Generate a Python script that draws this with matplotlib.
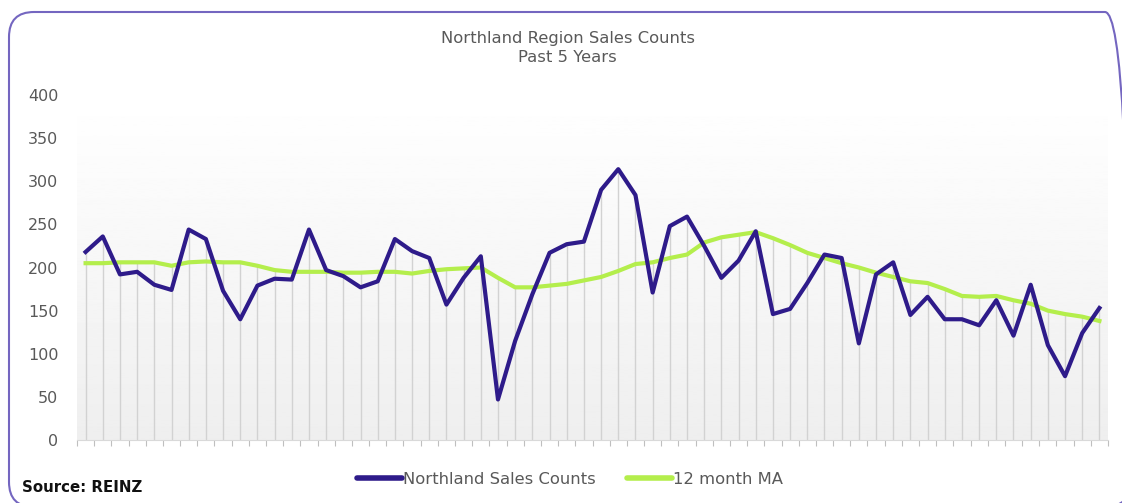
import numpy as np
import matplotlib.pyplot as plt
from matplotlib.patches import FancyBboxPatch
from matplotlib.lines import Line2D

# monthly sales counts, past 5 years (60 months)
sales = [218, 236, 192, 195, 180, 174, 244, 233, 173, 140,
         179, 187, 186, 244, 197, 190, 177, 184, 233, 219,
         211, 157, 188, 213, 47, 115, 169, 217, 227, 230,
         290, 314, 284, 171, 248, 259, 225, 188, 208, 242,
         146, 152, 182, 215, 211, 112, 192, 206, 145, 166,
         140, 140, 133, 162, 121, 180, 110, 74, 124, 153]

# 12 month moving average
ma12 = [205, 205, 206, 206, 206, 202, 206, 207, 206, 206,
        202, 197, 195, 195, 195, 194, 194, 195, 195, 193,
        196, 198, 199, 200, 188, 177, 177, 179, 181, 185,
        189, 196, 204, 206, 211, 215, 229, 235, 238, 241,
        234, 226, 217, 211, 205, 200, 194, 189, 184, 182,
        175, 167, 166, 167, 162, 158, 150, 146, 143, 138]

title = 'Northland Region Sales Counts\nPast 5 Years'
yticks = [0, 50, 100, 150, 200, 250, 300, 350, 400]

purple = '#2e1b8a'
green = '#b4ee4c'
grey_txt = '#595959'

W, H = 1122, 503
fig = plt.figure(figsize=(W / 100, H / 100), dpi=100)

# rounded card border, drawn in pixel units on a full-figure overlay
bg = fig.add_axes([0, 0, 1, 1])
bg.set_xlim(0, W)
bg.set_ylim(0, H)
bg.axis('off')
bg.add_patch(FancyBboxPatch((9, -4), 1121, 495, boxstyle='round,pad=0,rounding_size=25',
                            fill=False, edgecolor='#7466c0', lw=1.5))

ax = fig.add_axes([77 / W, 1 - 440 / H, (1108 - 77) / W, (440 - 95) / H])

x = np.arange(len(sales))

# gradient background of plot area
grad = np.linspace(1.0, 0.935, 256).reshape(-1, 1)
ax.imshow(grad, extent=[-0.5, len(sales) - 0.5, 0, 400], aspect='auto',
          cmap='gray', vmin=0, vmax=1, zorder=0, origin='upper')

# drop lines
ax.vlines(x, 0, np.maximum(sales, ma12), color='#d2d2d2', lw=1, zorder=1)

ax.plot(x, sales, color=purple, lw=3, zorder=3, solid_joinstyle='round')
ax.plot(x, ma12, color=green, lw=3, zorder=2, solid_joinstyle='round')

ax.set_xlim(-0.5, len(sales) - 0.5)
ax.set_ylim(0, 400)
ax.set_xticks(np.arange(-0.5, len(sales), 1))
ax.set_xticklabels([])
ax.tick_params(axis='x', length=4, color='#bfbfbf', direction='out')
ax.set_yticks(yticks)
ax.tick_params(axis='y', length=0, labelcolor=grey_txt, labelsize=11.5, pad=13.5)
for s in ['top', 'right', 'left']:
    ax.spines[s].set_visible(False)
ax.spines['bottom'].set_color('#d9d9d9')

fig.text(0.506, 1 - 48 / H, title, ha='center', va='center', color=grey_txt,
         fontsize=11.8, linespacing=1.35)

handles = [Line2D([], [], color=purple, lw=4, solid_capstyle='round'),
           Line2D([], [], color=green, lw=4, solid_capstyle='round')]
fig.legend(handles, ['Northland Sales Counts', '12 month MA'], loc='center',
           bbox_to_anchor=(0.508, 1 - 479 / H), ncol=2, frameon=False,
           handlelength=2.75, handletextpad=0.05, columnspacing=1.9,
           labelcolor=grey_txt, fontsize=11.8)

fig.text(22 / W, 1 - 487 / H, 'Source: REINZ', ha='left', va='center',
         fontsize=10.8, fontweight='bold', color='#111111')

fig.savefig('out.png', dpi=100)
